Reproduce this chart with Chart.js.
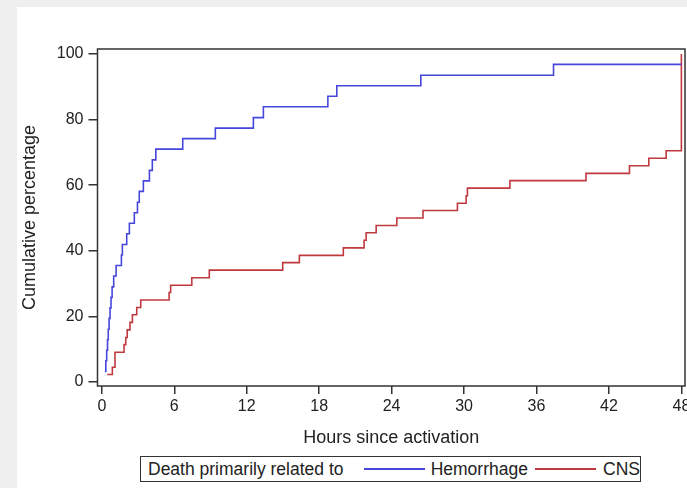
<!DOCTYPE html>
<html>
<head>
<meta charset="utf-8">
<script src="https://cdn.jsdelivr.net/npm/chart.js@4.4.1/dist/chart.umd.min.js"></script>
<style>
  body { margin: 0; background: #efefef; overflow: hidden; width: 687px; height: 488px; position: relative; font-family: "Liberation Sans", Arial, sans-serif; }
  .panel { position: absolute; left: 17px; top: 7px; width: 690px; height: 490px; background: #fff; }
  .legend { position: absolute; left: 140px; top: 456px; width: 499px; height: 24px; border: 1px solid #333; background: #fff;
            font-size: 17.5px; color: #222; display: flex; align-items: center; white-space: nowrap; }
  .legend .swatch { display: inline-block; width: 65px; height: 1.6px; }
</style>
</head>
<body>
<div class="panel"><canvas class="my-chart" width="690" height="490"></canvas></div>
<div class="legend">
  <span style="margin-left:7px">Death primarily related to</span>
  <span class="swatch" style="margin-left:20px;background:#4646dc"></span>
  <span style="margin-left:6px">Hemorrhage</span>
  <span class="swatch" style="margin-left:7px;background:#c0393f"></span>
  <span style="margin-left:7px">CNS</span>
</div>
<script>
const myChart = document.querySelector(".my-chart");

// hours since activation / cumulative percentage
const hemHours = [0.25, 0.33, 0.4, 0.47, 0.53, 0.6, 0.68, 0.76, 0.85, 0.98, 1.18, 1.62, 1.7, 2.06, 2.28, 2.69,
  2.95, 3.1, 3.44, 3.94, 4.18, 4.47, 6.7, 9.4, 12.55, 13.38, 18.72, 19.46, 26.42, 37.41, 48];
const hemPct = [3.2, 6.5, 9.7, 12.9, 16.1, 19.4, 22.6, 25.8, 29.0, 32.3, 35.5, 38.7, 41.9, 45.2, 48.4, 51.6,
  54.8, 58.1, 61.3, 64.5, 67.7, 71.0, 74.2, 77.4, 80.6, 83.9, 87.1, 90.3, 93.5, 96.8, 96.8];

const cnsHours = [0.45, 0.87, 1.09, 1.84, 1.98, 2.1, 2.33, 2.53, 2.89, 3.22, 5.57, 5.7, 7.45, 8.9, 14.98, 16.36,
  20.0, 21.72, 21.89, 22.72, 24.43, 26.6, 29.45, 30.17, 30.28, 33.8, 40.1, 43.7, 45.3, 46.74, 48];
const cnsPct = [2.3, 4.5, 9.1, 11.4, 13.6, 15.9, 18.2, 20.5, 22.7, 25.0, 27.3, 29.5, 31.8, 34.1, 36.4, 38.6,
  40.9, 43.2, 45.5, 47.7, 50.0, 52.3, 54.5, 56.8, 59.1, 61.4, 63.6, 65.9, 68.2, 70.5, 100];

const xTicks = [0, 6, 12, 18, 24, 30, 36, 42, 48];
const yTicks = [0, 20, 40, 60, 80, 100];

const toPoints = (xs, ys) => xs.map((x, i) => ({ x: x, y: ys[i] }));

// box round the plot area
const frame = {
  id: "frame",
  afterDraw(chart) {
    const { ctx, chartArea: a } = chart;
    ctx.save();
    ctx.strokeStyle = "#333";
    ctx.lineWidth = 1.5;
    ctx.strokeRect(a.left, a.top, a.right - a.left, a.bottom - a.top);
    ctx.restore();
  },
};

const tickFont = { family: "Liberation Sans", size: 16 };
const titleFont = { family: "Liberation Sans", size: 18 };

const mychart = new Chart(myChart, {
  type: "line",
  data: {
    datasets: [
      {
        label: "Hemorrhage",
        data: toPoints(hemHours, hemPct),
        borderColor: "#4646dc",
        borderWidth: 1.6,
        pointRadius: 0,
        stepped: true,
        fill: false,
      },
      {
        label: "CNS",
        data: toPoints(cnsHours, cnsPct),
        borderColor: "#c0393f",
        borderWidth: 1.6,
        pointRadius: 0,
        stepped: true,
        fill: false,
      },
    ],
  },
  options: {
    responsive: false,
    animation: false,
    layout: { padding: { left: 2, top: 42, right: 22, bottom: 48 } },
    plugins: { legend: { display: false }, tooltip: { enabled: false } },
    scales: {
      x: {
        type: "linear",
        min: -0.36,
        max: 48.3,
        afterBuildTicks: (s) => { s.ticks = xTicks.map((v) => ({ value: v })); },
        afterFit: (s) => { s.height = 63; },
        border: { display: false },
        grid: { drawOnChartArea: false, drawTicks: true, tickLength: 8, color: "#333", lineWidth: 1.5 },
        ticks: { color: "#222", font: tickFont, padding: 3, maxRotation: 0, autoSkip: false },
        title: { display: true, text: "Hours since activation", color: "#222", font: titleFont, padding: 0 },
      },
      y: {
        min: -1.2,
        max: 101.5,
        afterBuildTicks: (s) => { s.ticks = yTicks.map((v) => ({ value: v })); },
        afterFit: (s) => { s.width = 78.5; },
        border: { display: false },
        grid: { drawOnChartArea: false, drawTicks: true, tickLength: 9, color: "#333", lineWidth: 1.5 },
        ticks: { color: "#222", font: tickFont, padding: 5, autoSkip: false },
        title: { display: true, text: "Cumulative percentage", color: "#222", font: titleFont, padding: 0 },
      },
    },
  },
  plugins: [frame],
});
</script>
</body>
</html>
